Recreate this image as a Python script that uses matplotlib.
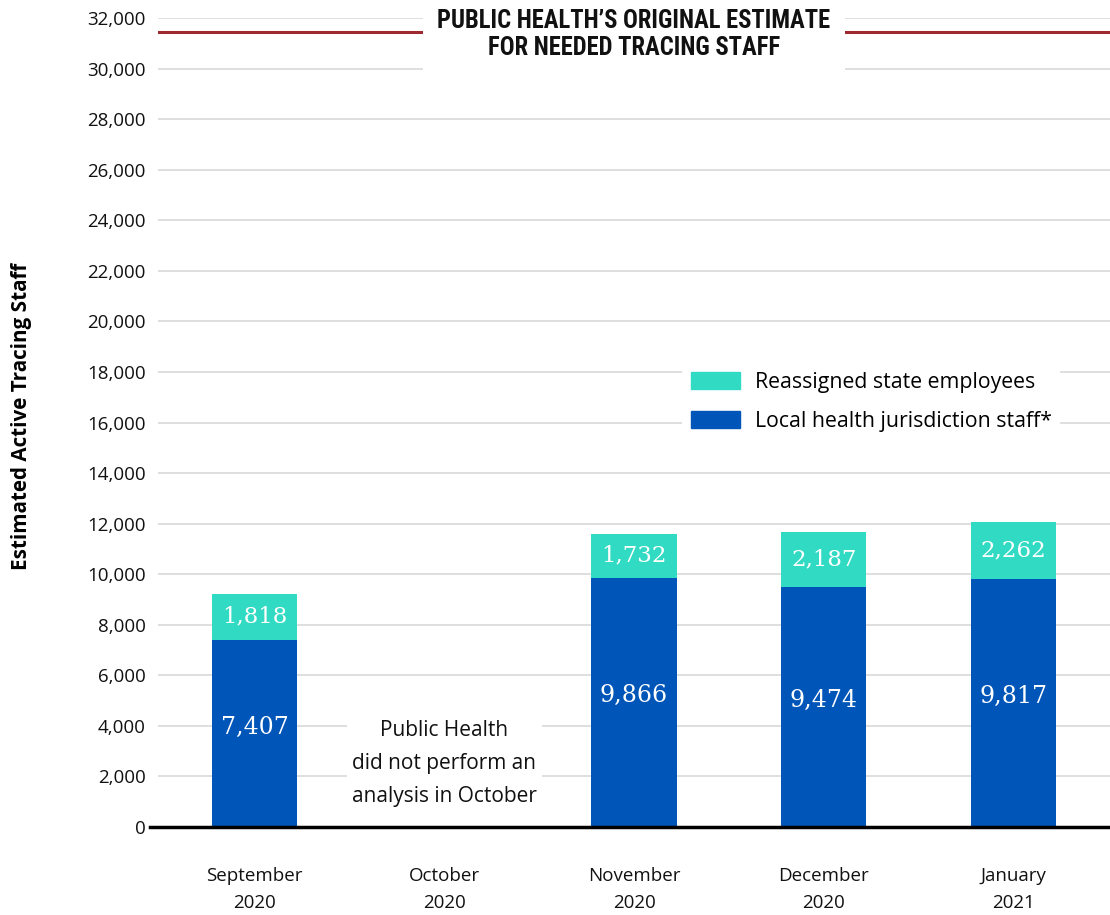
import matplotlib
matplotlib.use("Agg")
import matplotlib.pyplot as plt
from matplotlib.patches import Patch
import numpy as np

months = ["September\n2020", "October\n2020", "November\n2020", "December\n2020", "January\n2021"]
local_staff = [7407, 0, 9866, 9474, 9817]
state_staff = [1818, 0, 1732, 2187, 2262]
has_data = [True, False, True, True, True]
original_estimate = 31450
yticks = np.arange(0, 32001, 2000)

teal = "#30dac3"
blue = "#0055b8"
red = "#9e2a2f"

plt.rcParams["font.family"] = ["Open Sans", "DejaVu Sans"]

fig = plt.figure(figsize=(11.1, 9.15), dpi=100)
ax = fig.add_axes([158 / 1110, 88 / 915, 1 - 158 / 1110, 809 / 915])

x = np.arange(len(months))
w = 0.45
ax.bar(x, local_staff, w, color=blue, zorder=3)
ax.bar(x, state_staff, w, bottom=local_staff, color=teal, zorder=3)

for i in range(len(months)):
    if not has_data[i]:
        continue
    ax.text(x[i], local_staff[i] / 2 + 250, f"{local_staff[i]:,}", ha="center", va="center",
            color="white", fontsize=17, family="DejaVu Serif", zorder=4)
    ax.text(x[i], local_staff[i] + state_staff[i] / 2, f"{state_staff[i]:,}", ha="center", va="center",
            color="white", fontsize=16.5, family="DejaVu Serif", zorder=4)

ax.text(1, 2530, "Public Health\ndid not perform an\nanalysis in October", ha="center", va="center",
        fontsize=15, linespacing=1.75, color="#111111", zorder=4,
        bbox=dict(facecolor="white", edgecolor="none", boxstyle="square,pad=0.25"))

# original estimate line with title box
ax.axhline(original_estimate, color=red, lw=2.2, zorder=2)
ax.text(0.5, 31350, "PUBLIC HEALTH\u2019S ORIGINAL ESTIMATE\nFOR NEEDED TRACING STAFF",
        transform=ax.get_yaxis_transform(), ha="center", va="center", fontsize=17.7,
        fontweight="bold", family=["Roboto Condensed", "Roboto", "DejaVu Sans"], linespacing=1.15,
        color="#111111", zorder=6,
        bbox=dict(facecolor="white", edgecolor="none", boxstyle="square,pad=0.6"))

ax.set_xlim(-0.51, 4.51)
ax.set_ylim(0, 32000)
ax.set_yticks(yticks)
ax.set_yticklabels([f"{v:,}" for v in yticks], fontsize=13.5)
ax.set_xticks(x)
ax.set_xticklabels(months, fontsize=13.5, linespacing=1.6)
ax.tick_params(axis="both", length=0, colors="#111111")
ax.tick_params(axis="y", pad=9)
ax.tick_params(axis="x", pad=29)
ax.grid(axis="y", color="#d9d9d9", lw=1.2, zorder=0)
for s in ["top", "right", "left", "bottom"]:
    ax.spines[s].set_visible(False)
ax.plot([-0.008, 1], [0, 0], transform=ax.transAxes, color="black", lw=2.5, clip_on=False, zorder=5)

ax.set_ylabel("Estimated Active Tracing Staff", fontsize=14.9, fontweight="bold", labelpad=0)
ax.yaxis.set_label_coords(-126 / 952, 0.507)

handles = [Patch(color=teal), Patch(color=blue)]
leg = ax.legend(handles, ["Reassigned state employees", "Local health jurisdiction staff*"],
                loc="upper left", bbox_to_anchor=(0.5395, 0.586), frameon=True, fontsize=15.3,
                handlelength=2.3, handleheight=0.87, handletextpad=0.72, labelspacing=0.85,
                borderpad=0.4, framealpha=1, facecolor="white", edgecolor="none")
leg.set_zorder(6)

fig.savefig("out.png", dpi=100, facecolor="white")
